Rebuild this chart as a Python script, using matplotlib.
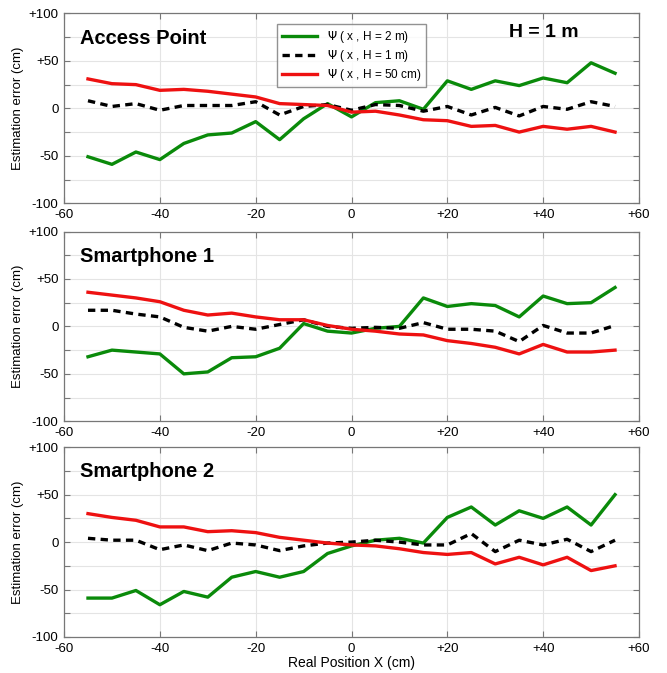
import matplotlib.pyplot as plt
import numpy as np

plt.rcParams["font.family"] = ["Liberation Sans", "DejaVu Sans"]

# real positions (cm)
x_pos = [-55, -50, -45, -40, -35, -30, -25, -20, -15, -10, -5, 0,
         5, 10, 15, 20, 25, 30, 35, 40, 45, 50, 55]

panel_names = ["Access Point", "Smartphone 1", "Smartphone 2"]
series_labels = [r"$\Psi$ ( x , H = 2 m)", r"$\Psi$ ( x , H = 1 m)", r"$\Psi$ ( x , H = 50 cm)"]

# Access Point
ap_h2m = [-51, -59, -46, -54, -37, -28, -26, -14, -33, -11, 5, -9,
          6, 8, -1, 29, 20, 29, 24, 32, 27, 48, 37]
ap_h1m = [8, 2, 5, -2, 3, 3, 3, 7, -7, 2, 4, -2,
          4, 3, -3, 2, -7, 1, -8, 2, -1, 7, 2]
ap_h50 = [31, 26, 25, 19, 20, 18, 15, 12, 5, 4, 3, -4,
          -3, -7, -12, -13, -19, -18, -25, -19, -22, -19, -25]

# Smartphone 1
sp1_h2m = [-32, -25, -27, -29, -50, -48, -33, -32, -23, 3, -5, -7,
           -2, 0, 30, 21, 24, 22, 10, 32, 24, 25, 41]
sp1_h1m = [17, 17, 13, 10, -1, -5, 0, -3, 2, 7, 0, -2,
           -1, -2, 4, -3, -3, -5, -16, 1, -7, -7, 1]
sp1_h50 = [36, 33, 30, 26, 17, 12, 14, 10, 7, 7, 1, -3,
           -5, -8, -9, -15, -18, -22, -29, -19, -27, -27, -25]

# Smartphone 2
sp2_h2m = [-59, -59, -51, -66, -52, -58, -37, -31, -37, -31, -12, -4,
           2, 4, -1, 26, 37, 18, 33, 25, 37, 18, 50]
sp2_h1m = [4, 2, 2, -8, -3, -9, -1, -3, -9, -4, -1, 0,
           2, 0, -3, -3, 9, -10, 2, -3, 3, -10, 2]
sp2_h50 = [30, 26, 23, 16, 16, 11, 12, 10, 5, 2, -1, -3,
           -4, -7, -11, -13, -11, -23, -16, -24, -16, -30, -25]

panels = [
    (ap_h2m, ap_h1m, ap_h50),
    (sp1_h2m, sp1_h1m, sp1_h50),
    (sp2_h2m, sp2_h1m, sp2_h50),
]

x_ticks = [-60, -40, -20, 0, 20, 40, 60]
x_ticklabels = ["-60", "-40", "-20", "0", "+20", "+40", "+60"]
y_ticks = [-100, -75, -50, -25, 0, 25, 50, 75, 100]
y_ticklabels = ["-100", "", "-50", "", "0", "", "+50", "", "+100"]

green = "#0a8a0a"
styles = [
    dict(color=green, lw=2.4, ls="-"),
    dict(color="black", lw=2.4, ls=(0, (2.2, 1.6))),
    dict(color="#ee1111", lw=2.4, ls="-"),
]

fig = plt.figure(figsize=(6.67, 6.73), dpi=100)
bottoms = [0.698, 0.374, 0.0535]
axes = []
for b in bottoms:
    axes.append(fig.add_axes([0.096, b, 0.862, 0.282]))

for ax, name, data in zip(axes, panel_names, panels):
    for vals, st, lab in zip(data, styles, series_labels):
        ax.plot(x_pos, vals, label=lab, **st)
    ax.set_xlim(-60, 60)
    ax.set_ylim(-100, 100)
    ax.set_xticks(x_ticks)
    ax.set_xticklabels(x_ticklabels)
    ax.set_yticks(y_ticks)
    ax.set_yticklabels(y_ticklabels)
    ax.grid(True, color="#e4e4e4", lw=0.8)
    ax.set_axisbelow(True)
    ax.tick_params(direction="in", top=True, right=True, labelsize=9.5,
                   color="#777777", length=4, pad=4)
    for sp in ax.spines.values():
        sp.set_color("#777777")
        sp.set_linewidth(0.9)
    ax.set_ylabel("Estimation error (cm)", fontsize=9.5, labelpad=3)
    ax.text(0.028, 0.87, name, transform=ax.transAxes, fontsize=14.5,
            fontweight="bold", va="center", ha="left")

axes[0].text(0.835, 0.9, "H = 1 m", transform=axes[0].transAxes, fontsize=14,
             fontweight="bold", va="center", ha="center")
axes[0].legend(loc="upper left", bbox_to_anchor=(0.36, 0.975), fontsize=8.5,
               frameon=True, fancybox=False, edgecolor="#777777",
               handlelength=3.0, borderpad=0.4, labelspacing=0.25)
axes[2].set_xlabel("Real Position X (cm)", fontsize=10, labelpad=1)

fig.savefig("out.png", dpi=100)
